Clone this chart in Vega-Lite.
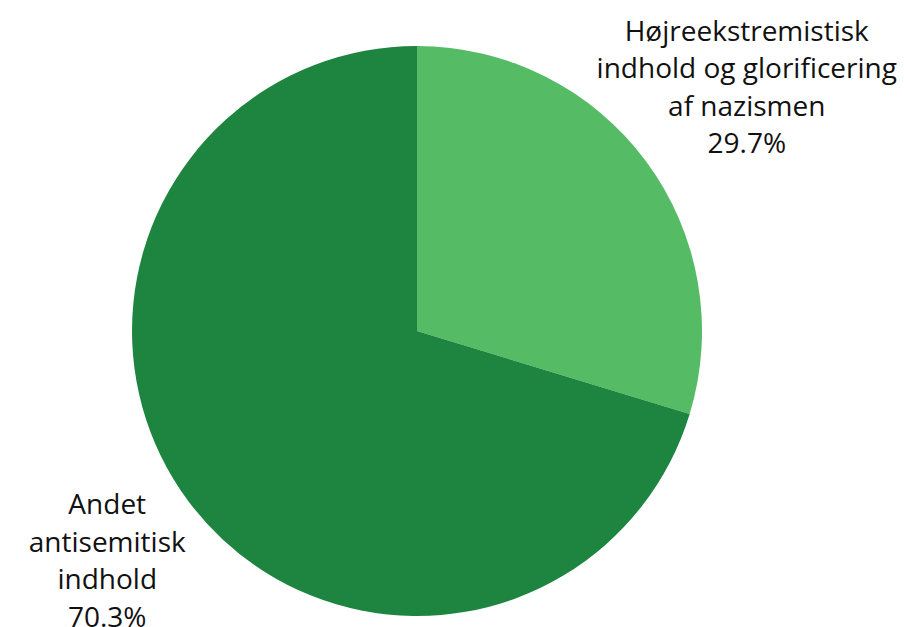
{
  "$schema": "https://vega.github.io/schema/vega-lite/v6.json",
  "width": 834,
  "height": 592,
  "autosize": {"type": "none"},
  "padding": {"left": 0, "right": 70, "top": 35, "bottom": 0},
  "background": "white",
  "view": {"stroke": null},
  "data": {
    "values": [
      {"rank": 1, "category": "Højreekstremistisk indhold og glorificering af nazismen", "label": "Højreekstremistisk\nindhold og glorificering\naf nazismen\n29.7%", "share": 29.7},
      {"rank": 2, "category": "Andet antisemitisk indhold", "label": "Andet\nantisemitisk\nindhold\n70.3%", "share": 70.3}
    ]
  },
  "encoding": {
    "theta": {"field": "share", "type": "quantitative", "stack": true},
    "order": {"field": "rank", "type": "quantitative"}
  },
  "layer": [
    {
      "mark": {"type": "arc", "radius": 285, "stroke": null},
      "encoding": {
        "color": {
          "field": "category",
          "type": "nominal",
          "scale": {
            "domain": ["Højreekstremistisk indhold og glorificering af nazismen", "Andet antisemitisk indhold"],
            "range": ["#55bb65", "#1e8540"]
          },
          "legend": null
        }
      }
    },
    {
      "mark": {
        "type": "text",
        "radius": 398,
        "dx": 10,
        "dy": -61.5,
        "font": "Open Sans",
        "fontSize": 28,
        "lineHeight": 37.5,
        "lineBreak": "\n",
        "align": "center",
        "baseline": "middle",
        "color": "#111111"
      },
      "encoding": {
        "text": {"field": "label", "type": "nominal"}
      }
    }
  ]
}
